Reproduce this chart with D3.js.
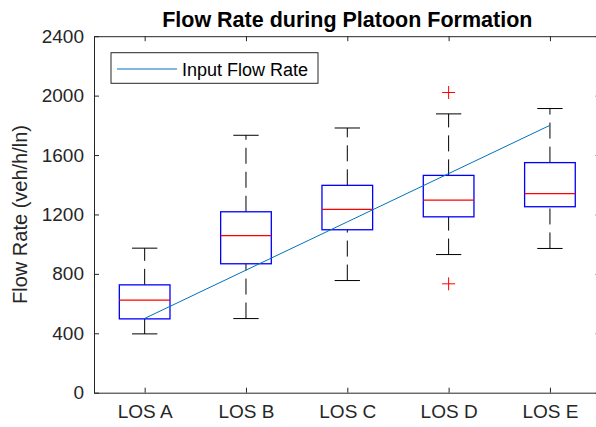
<!DOCTYPE html>
<html>
<head>
<meta charset="utf-8">
<script src="https://cdn.jsdelivr.net/npm/d3@7.9.0/dist/d3.min.js"></script>
<style>
  body { margin: 0; background: #fff; }
  svg { display: block; font-family: "Liberation Sans", Arial, sans-serif; }
</style>
</head>
<body>
<svg id="chart" width="596" height="427"></svg>
<script>
// box plot stats
const categories = ['LOS A', 'LOS B', 'LOS C', 'LOS D', 'LOS E'];
const whiskerLow = [396, 499, 755, 930, 971];
const q1 = [497, 868, 1097, 1184, 1252];
const median = [623, 1058, 1234, 1297, 1340];
const q3 = [726, 1218, 1396, 1463, 1549];
const whiskerHigh = [973, 1733, 1782, 1877, 1913];
const outliers = [[], [], [], [733, 2021], []];
const inputFlow = [500, 825, 1150, 1475, 1800];
const yTicks = [0, 400, 800, 1200, 1600, 2000, 2400];

const svg = d3.select('#chart');
const mLeft = 94, mRight = 600.6, mTop = 36.2, mBottom = 392.7;

const x = d3.scaleLinear().domain([0.5, 5.5]).range([mLeft, mRight]);
const y = d3.scaleLinear().domain([0, 2400]).range([mBottom, mTop]);

const boxes = categories.map((c, i) => ({
  pos: i + 1, lo: whiskerLow[i], q1: q1[i], med: median[i], q3: q3[i], hi: whiskerHigh[i], out: outliers[i]
}));

const axisColor = '#262626';

// axes (ticks pointing inward, like matlab)
const gx = svg.append('g').attr('transform', `translate(0,${mBottom})`)
  .call(d3.axisBottom(x).tickValues(boxes.map(d => d.pos)).tickFormat((d, i) => categories[i])
    .tickSize(-5).tickSizeOuter(0).tickPadding(12));
const gxt = svg.append('g').attr('transform', `translate(0,${mTop})`)
  .call(d3.axisTop(x).tickValues(boxes.map(d => d.pos)).tickFormat('').tickSize(-5).tickSizeOuter(0));
const gy = svg.append('g').attr('transform', `translate(${mLeft},0)`)
  .call(d3.axisLeft(y).tickValues(yTicks).tickFormat(d3.format('d'))
    .tickSize(-5).tickSizeOuter(0).tickPadding(10));
const gyr = svg.append('g').attr('transform', `translate(${mRight},0)`)
  .call(d3.axisRight(y).tickValues(yTicks).tickFormat('').tickSize(-5).tickSizeOuter(0));

[gx, gxt, gy, gyr].forEach(g => {
  g.selectAll('path, line').attr('stroke', axisColor).attr('stroke-width', 1);
  g.selectAll('text').attr('fill', axisColor).attr('font-size', 19);
});
gx.selectAll('text').attr('dy', '0.71em');

const plot = svg.append('g');
const bw = x(1.25) - x(1);
const cw = x(1.125) - x(1);

// whiskers, drawn from low value to high value so dashes start at the bottom
const whiskers = [];
boxes.forEach(d => {
  whiskers.push({ pos: d.pos, a: d.q3, b: d.hi });
  whiskers.push({ pos: d.pos, a: d.lo, b: d.q1 });
});
plot.selectAll('.whisker').data(whiskers).join('line')
  .attr('x1', d => x(d.pos)).attr('x2', d => x(d.pos))
  .attr('y1', d => y(d.a)).attr('y2', d => y(d.b))
  .attr('stroke', '#000').attr('stroke-width', 1)
  .attr('stroke-dasharray', '16,8');

// caps
const caps = boxes.flatMap(d => [{ pos: d.pos, v: d.lo }, { pos: d.pos, v: d.hi }]);
plot.selectAll('.cap').data(caps).join('line')
  .attr('x1', d => x(d.pos) - cw).attr('x2', d => x(d.pos) + cw)
  .attr('y1', d => y(d.v)).attr('y2', d => y(d.v))
  .attr('stroke', '#000').attr('stroke-width', 1);

// boxes
plot.selectAll('.box').data(boxes).join('rect')
  .attr('x', d => x(d.pos) - bw).attr('width', 2 * bw)
  .attr('y', d => y(d.q3)).attr('height', d => y(d.q1) - y(d.q3))
  .attr('fill', 'none').attr('stroke', '#0000ff').attr('stroke-width', 1.3);

// medians
plot.selectAll('.median').data(boxes).join('line')
  .attr('x1', d => x(d.pos) - bw).attr('x2', d => x(d.pos) + bw)
  .attr('y1', d => y(d.med)).attr('y2', d => y(d.med))
  .attr('stroke', '#ff0000').attr('stroke-width', 1.3);

// outliers as red +
const outs = boxes.flatMap(d => d.out.map(v => ({ pos: d.pos, v })));
plot.selectAll('.outlier').data(outs).join('path')
  .attr('d', d => `M${x(d.pos) - 6.5},${y(d.v)}h13M${x(d.pos)},${y(d.v) - 6.5}v13`)
  .attr('stroke', '#ff0000').attr('stroke-width', 1).attr('fill', 'none');

// input flow rate line
const line = d3.line().x((d, i) => x(i + 1)).y(d => y(d));
plot.append('path').datum(inputFlow)
  .attr('d', line).attr('fill', 'none')
  .attr('stroke', '#0072BD').attr('stroke-width', 1);

// title and labels
svg.append('text').attr('x', (mLeft + mRight) / 2).attr('y', 26.5)
  .attr('text-anchor', 'middle').attr('font-size', 21.5).attr('font-weight', 'bold')
  .attr('fill', '#000').text('Flow Rate during Platoon Formation');

svg.append('text').attr('transform', `translate(27,${(mTop + mBottom) / 2}) rotate(-90)`)
  .attr('text-anchor', 'middle').attr('font-size', 20).attr('fill', axisColor)
  .text('Flow Rate (veh/h/ln)');

// legend
const lg = svg.append('g');
lg.append('rect').attr('x', 111).attr('y', 52.7).attr('width', 207).attr('height', 30.6)
  .attr('fill', '#fff').attr('stroke', axisColor).attr('stroke-width', 1);
lg.append('line').attr('x1', 117).attr('x2', 177).attr('y1', 69).attr('y2', 69)
  .attr('stroke', '#0072BD').attr('stroke-width', 1);
lg.append('text').attr('x', 182).attr('y', 75.5).attr('font-size', 18).attr('fill', '#000')
  .text('Input Flow Rate');
</script>
</body>
</html>
